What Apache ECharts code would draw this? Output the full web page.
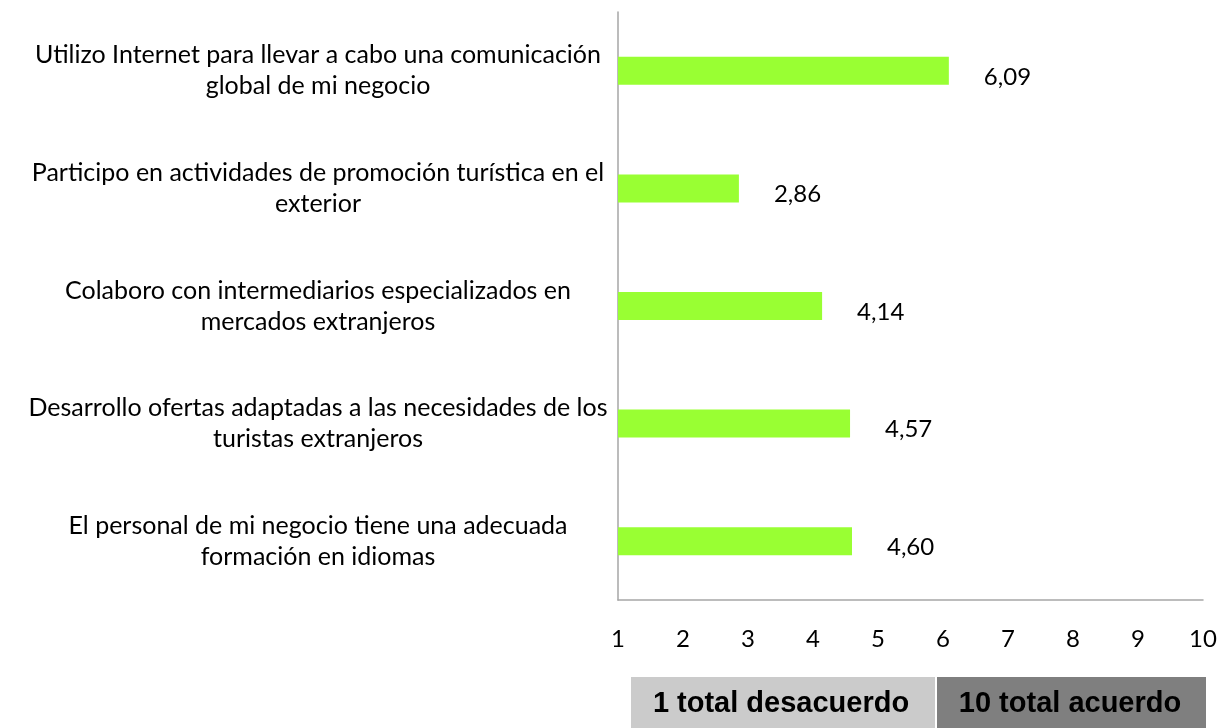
<!DOCTYPE html>
<html>
<head>
<meta charset="utf-8">
<script src="https://cdn.jsdelivr.net/npm/echarts@6/dist/echarts.min.js"></script>
<style>html,body{margin:0;padding:0;background:#fff}#c{width:1223px;height:728px}</style>
</head>
<body>
<div id="c"></div>
<script>
const categories = [
  'Utilizo Internet para llevar a cabo una comunicación\nglobal de mi negocio',
  'Participo en actividades de promoción turística en el\nexterior',
  'Colaboro con intermediarios especializados en\nmercados extranjeros',
  'Desarrollo ofertas adaptadas a las necesidades de los\nturistas extranjeros',
  'El personal de mi negocio tiene una adecuada\nformación en idiomas'
];
const values = [6.09, 2.86, 4.14, 4.57, 4.60];
const xTicks = [1, 2, 3, 4, 5, 6, 7, 8, 9, 10];
const scaleNotes = ['1 total desacuerdo', '10 total acuerdo'];

const FONT = 'Lato, "Open Sans", sans-serif';
const BOXFONT = 'bold 29px "Liberation Sans", Arial, sans-serif';
const chart = echarts.init(document.getElementById('c'), null, {renderer: 'canvas'});
chart.setOption({
  animation: false,
  backgroundColor: '#ffffff',
  grid: {left: 618, right: 20, top: 12, bottom: 128, containLabel: false},
  xAxis: {
    type: 'value',
    min: xTicks[0], max: xTicks[xTicks.length - 1], interval: 1,
    axisLine: {show: true, lineStyle: {color: '#a6a6a6', width: 1.5}},
    axisTick: {show: false},
    splitLine: {show: false},
    axisLabel: {color: '#000', fontSize: 24, fontFamily: FONT, margin: 27}
  },
  yAxis: {
    type: 'category',
    inverse: true,
    data: categories,
    axisLine: {show: true, lineStyle: {color: '#a6a6a6', width: 1.5}},
    axisTick: {show: false},
    axisLabel: {color: '#000', fontSize: 25, fontFamily: FONT, align: 'center', margin: 300, lineHeight: 31, padding: [10, 0, 0, 0]}
  },
  series: [{
    type: 'bar',
    data: values,
    barWidth: 28,
    itemStyle: {color: '#99ff33'},
    label: {
      show: true, position: 'right', distance: 35, offset: [0, 6],
      color: '#000', fontSize: 24, fontFamily: FONT,
      formatter: p => p.value.toFixed(2).replace('.', ',')
    }
  }],
  graphic: [
    {type: 'rect', shape: {x: 631, y: 677, width: 304, height: 60}, style: {fill: '#cbcbcb'}},
    {type: 'rect', shape: {x: 937, y: 677, width: 269, height: 60}, style: {fill: '#7f7f7f'}},
    {type: 'text', x: 781, y: 704, style: {text: scaleNotes[0], fill: '#000', font: BOXFONT, textAlign: 'center', textVerticalAlign: 'middle'}},
    {type: 'text', x: 1070, y: 704, style: {text: scaleNotes[1], fill: '#000', font: BOXFONT, textAlign: 'center', textVerticalAlign: 'middle'}}
  ]
});
</script>
</body>
</html>
